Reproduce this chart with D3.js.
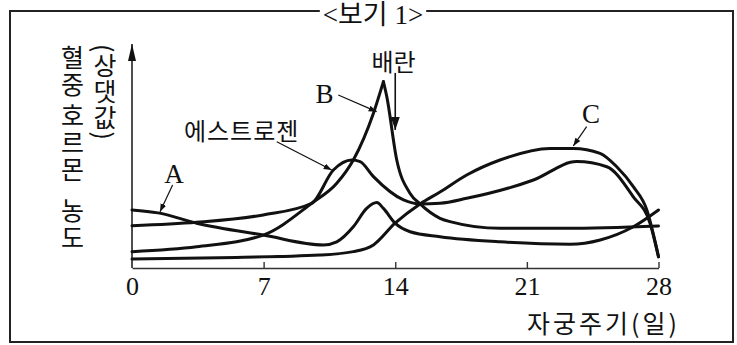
<!DOCTYPE html>
<html><head><meta charset="utf-8">
<script src="https://cdn.jsdelivr.net/npm/d3@7/dist/d3.min.js"></script>
<style>
html,body{margin:0;padding:0;background:#fff;}
svg{display:block;}
</style></head>
<body>
<svg id="c" width="737" height="345"></svg>
<script>
// ---- data (day of cycle, relative concentration 0-100) ----
const xTicks = [0, 7, 14, 21, 28];
const titleText = "<보기 1>";
const xTitle = "자궁주기(일)";
const yTitleWords = ["혈중", "호르몬", "농도"];
const yUnit = "(상댓값)";
const ovulationDay = 14;
const ovulationLabel = "배란";

const hormoneA = [[0,25.9],[1.38,24.6],[3.44,20.0],[6.98,14.7],[10.18,10.3],[10.89,11.7],[11.77,18.4],[12.48,26.6],[13.02,29.2],[13.37,26.6],[13.99,20.0],[14.79,16.2],[16.38,14.0],[19.57,11.7],[23.3,10.6],[24.9,12.5],[26.66,18.4],[28,25.9]];
const hormoneB = [[0,7.3],[3.44,9.5],[6.98,14.7],[9.56,28.9],[10.89,37.8],[11.77,48.2],[12.84,69.1],[13.37,83.2],[13.55,76.5],[14.08,48.2],[14.79,33.3],[15.32,28.6],[16.38,22.2],[16.91,20.7],[19.57,17.7],[23.12,17.7],[28,18.75]];
const estrogen = [[0,18.9],[3.44,20.4],[6.98,23.7],[9.56,28.9],[10.71,43.75],[11.69,48.2],[12.13,47.5],[12.84,40.8],[14.44,30.4],[15.32,28.6],[16.38,28.9],[17.8,31.1],[21.35,39.3],[23.65,47.5],[25.25,45.2],[26.66,31.8],[27.55,20.0],[28,5.0]];
const hormoneC = [[0,4.0],[4.68,4.6],[10.0,5.8],[11.77,7.3],[12.84,10.3],[13.99,20.0],[15.32,28.6],[16.38,33.9],[17.8,41.5],[19.57,48.2],[22.23,53.4],[23.47,53.4],[24.89,51.2],[25.78,45.2],[26.66,36.3],[27.38,25.9],[28,5.0]];

// ---- drawing ----
const svg = d3.select("#c");
const KR = "'Noto Sans CJK KR', sans-serif";
const SERIF = "'Liberation Serif', 'DejaVu Serif', serif";

const x = d3.scaleLinear().domain([0, 28]).range([132, 658.5]);
const y = d3.scaleLinear().domain([0, 100]).range([268, 44]);

const defs = svg.append("defs");
defs.append("marker").attr("id","ptr").attr("viewBox","-8 -4 9 8")
  .attr("markerWidth",9).attr("markerHeight",8).attr("markerUnits","userSpaceOnUse")
  .attr("refX",0).attr("refY",0).attr("orient","auto")
  .append("path").attr("d","M0,0L-8,-3L-8,3Z").attr("fill","#111");
defs.append("marker").attr("id","big").attr("viewBox","-13 -5 14 10")
  .attr("markerWidth",14).attr("markerHeight",10).attr("markerUnits","userSpaceOnUse")
  .attr("refX",0).attr("refY",0).attr("orient","auto")
  .append("path").attr("d","M0,0L-13,-4.5L-13,4.5Z").attr("fill","#111");
defs.append("marker").attr("id","axisArrow").attr("viewBox","-17 -4.5 18 9")
  .attr("markerWidth",18).attr("markerHeight",9).attr("markerUnits","userSpaceOnUse")
  .attr("refX",0).attr("refY",0).attr("orient","auto")
  .append("path").attr("d","M0,0L-17,-4L-17,4Z").attr("fill","#111");

// frame
svg.append("rect").attr("x",10).attr("y",11).attr("width",723).attr("height",331)
  .attr("fill","none").attr("stroke","#222").attr("stroke-width",2);
// title with white background
const tt = svg.append("text").attr("x",373).attr("y",24)
  .attr("text-anchor","middle").attr("font-family",SERIF + "," + KR)
  .attr("font-size",27).attr("fill","#111").text(titleText);
const bb = tt.node().getBBox();
svg.insert("rect","text").attr("x",bb.x-3).attr("y",0).attr("width",bb.width+6).attr("height",20).attr("fill","#fff");

// x axis
const gx = svg.append("g").attr("transform",`translate(0,${y(0)})`)
  .call(d3.axisBottom(x).tickValues(xTicks).tickSizeInner(-6).tickSizeOuter(0).tickPadding(9).tickFormat(d3.format("d")));
gx.select(".domain").attr("stroke","#333").attr("stroke-width",1.6);
gx.selectAll(".tick line").attr("stroke","#333").attr("stroke-width",1.4);
gx.selectAll(".tick").filter(d => d === 0).select("line").remove();
gx.selectAll(".tick text").attr("font-family",SERIF).attr("font-size",26).attr("fill","#111");

// y axis with arrow
svg.append("line").attr("x1",x(0)).attr("x2",x(0)).attr("y1",y(0)).attr("y2",y(100))
  .attr("stroke","#222").attr("stroke-width",1.6).attr("marker-end","url(#axisArrow)");

// x title
svg.append("text").attr("x",680).attr("y",333).attr("text-anchor","end")
  .attr("font-family",KR).attr("font-size",25).attr("letter-spacing",3).attr("fill","#111").text(xTitle);

// y title (vertical)
const yt = svg.append("text").attr("x",72.5).attr("font-family",KR).attr("font-size",25)
  .attr("fill","#111").attr("letter-spacing",2).style("writing-mode","vertical-rl");
const yStarts = [45, 103, 198];
yTitleWords.forEach((w,i) => yt.append("tspan").attr("x",72.5).attr("y",yStarts[i]).text(w));
svg.append("text").attr("x",105).attr("y",44).attr("font-family",KR).attr("font-size",25)
  .attr("fill","#111").attr("letter-spacing",1).style("writing-mode","vertical-rl").text(yUnit);

// curves
const line = d3.line().x(d => x(d[0])).y(d => y(d[1])).curve(d3.curveMonotoneX);
const curveStyle = p => p.attr("fill","none").attr("stroke","#111").attr("stroke-width",3).attr("stroke-linejoin","round").attr("stroke-linecap","round");
[hormoneA, estrogen, hormoneC].forEach(s => svg.append("path").attr("d", line(s)).call(curveStyle));
const peakIdx = d3.maxIndex(hormoneB, d => d[1]);
svg.append("path").attr("d", line(hormoneB.slice(0, peakIdx+1))).call(curveStyle);
svg.append("path").attr("d", line(hormoneB.slice(peakIdx))).call(curveStyle);

// labels & pointers
function pointer(x1,y1,x2,y2){
  svg.append("line").attr("x1",x(x1)).attr("y1",y(y1)).attr("x2",x(x2)).attr("y2",y(y2))
    .attr("stroke","#111").attr("stroke-width",1.2).attr("marker-end","url(#ptr)");
}
function letter(t,d,v){
  svg.append("text").attr("x",x(d)).attr("y",y(v)).attr("text-anchor","middle")
    .attr("font-family",SERIF).attr("font-size",27).attr("fill","#111").text(t);
}
letter("A", 2.23, 37.9); pointer(2.16, 37.1, 1.49, 25.1);
letter("B", 10.24, 73.7); pointer(10.97, 77.2, 13.01, 69.8);
letter("C", 24.41, 64.7); pointer(24.18, 63.1, 23.47, 54.5);
svg.append("text").attr("x",x(5.83)).attr("y",y(61.2)).attr("dy","0.36em").attr("text-anchor","middle")
  .attr("font-family",KR).attr("font-size",24).attr("letter-spacing",1).attr("fill","#111").text("에스트로젠");
pointer(7.70, 56.4, 10.62, 43.75);
svg.append("text").attr("x",x(13.91)).attr("y",y(91.7)).attr("dy","0.36em").attr("text-anchor","middle")
  .attr("font-family",KR).attr("font-size",24).attr("fill","#111").text(ovulationLabel);
svg.append("line").attr("x1",x(ovulationDay)).attr("x2",x(ovulationDay)).attr("y1",y(87.1)).attr("y2",y(61.6))
  .attr("stroke","#111").attr("stroke-width",1.6).attr("marker-end","url(#big)");
</script>
</body></html>
